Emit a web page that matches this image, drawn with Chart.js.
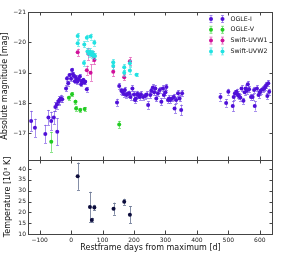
<!DOCTYPE html>
<html><head><meta charset="utf-8">
<script src="https://cdn.jsdelivr.net/npm/chart.js@4.4.1/dist/chart.umd.min.js"></script>
<style>
html,body{margin:0;padding:0;background:#fff;overflow:hidden}
#wrap{position:relative;width:287px;height:255px;background:#fff}
canvas{position:absolute;left:0;top:0}
</style></head><body>
<div id="wrap"><canvas id="cTop" width="287" height="255"></canvas><canvas id="cBot" width="287" height="255"></canvas></div>
<script>
// ---------- data ----------
const seriesNames = ['OGLE-I', 'OGLE-V', 'Swift-UVW1', 'Swift-UVW2'];

const ogleIDays = [-127,-115,-82,-72,-63,-55,-50,-45,-44,-40,-37,-33,-28,-16,-13,-9,-5,0,3,6,9,12,15,18,20,24,28,32,34,39,42,45,50,
  146,153,160,163,168,171,176,180,185,189,195,200,203,206,210,213,218,222,229,236,240,245,252,255,260,264,268,271,276,282,287,292,295,300,303,308,312,315,321,327,329,334,340,345,350,353,
  475,493,500,514,517,521,526,530,533,538,542,548,552,555,559,562,566,572,577,582,584,591,596,600,603,609,614,618,621,624,627,630];
const ogleIMag = [-17.41,-17.18,-16.98,-17.52,-17.41,-17.52,-17.87,-17.96,-17.05,-18.05,-18.10,-18.15,-18.12,-18.48,-18.81,-18.65,-18.92,-18.80,-19.09,-18.95,-18.89,-18.72,-18.85,-18.76,-18.70,-18.78,-18.87,-18.62,-18.72,-18.76,-18.68,-18.70,-18.45,
  -18.02,-18.56,-18.40,-18.37,-18.30,-18.43,-18.26,-18.30,-18.31,-18.20,-18.48,-18.28,-18.10,-18.15,-18.30,-18.26,-18.20,-18.29,-18.20,-18.23,-18.28,-17.93,-18.26,-18.40,-18.51,-18.35,-18.48,-18.15,-18.32,-18.43,-18.04,-18.48,-18.26,-18.35,-18.53,-18.10,-18.15,-18.10,-18.15,-18.20,-17.82,-18.10,-18.32,-18.15,-17.77,-18.32,
  -18.20,-18.00,-18.37,-17.90,-18.20,-18.32,-18.37,-18.28,-18.23,-18.18,-18.48,-18.07,-18.35,-18.48,-18.40,-18.62,-18.45,-18.20,-18.20,-18.43,-17.90,-18.48,-18.26,-18.35,-18.40,-18.45,-18.48,-18.53,-18.59,-18.23,-18.65,-18.37];
const ogleIErr = [0.33,0.30,0.30,0.25,0.30,0.22,0.15,0.15,0.45,0.12,0.12,0.12,0.10,0.10,0.08,0.08,0.08,0.08,0.07,0.07,0.07,0.07,0.07,0.07,0.07,0.07,0.07,0.07,0.07,0.07,0.07,0.07,0.08,
  0.12,0.10,0.10,0.10,0.10,0.10,0.10,0.10,0.10,0.10,0.10,0.10,0.10,0.10,0.10,0.10,0.10,0.10,0.10,0.10,0.10,0.12,0.10,0.10,0.10,0.10,0.10,0.10,0.10,0.10,0.12,0.10,0.10,0.10,0.10,0.10,0.10,0.10,0.10,0.10,0.15,0.10,0.10,0.10,0.18,0.10,
  0.12,0.12,0.10,0.18,0.10,0.10,0.10,0.10,0.10,0.10,0.10,0.10,0.10,0.10,0.10,0.10,0.10,0.10,0.10,0.10,0.15,0.10,0.10,0.10,0.10,0.10,0.10,0.10,0.10,0.10,0.10,0.10];

const ogleVDays = [-63,-7,3,14,16,29,43,153];
const ogleVMag  = [-16.72,-18.17,-18.29,-18.04,-17.82,-17.77,-17.80,-17.29];
const ogleVErr  = [0.33,0.07,0.07,0.07,0.07,0.07,0.07,0.12];

const uvw1Days = [21,50,55,62,70,74,134,169,187];
const uvw1Mag  = [-19.67,-19.08,-19.62,-19.00,-19.55,-19.42,-19.03,-18.85,-19.38];
const uvw1Err  = [0.12,0.15,0.20,0.27,0.15,0.15,0.15,0.10,0.12];

const uvw2Days = [21,21,41,42,50,52,57,60,62,65,68,71,74,76,134,134,169,169,187,187,208];
const uvw2Mag  = [-20.21,-19.97,-19.32,-19.93,-20.15,-19.70,-19.62,-19.70,-20.19,-19.58,-19.65,-19.60,-19.99,-19.55,-19.34,-19.22,-19.18,-19.00,-19.31,-19.07,-18.93];
const uvw2Err  = [0.10,0.10,0.10,0.10,0.10,0.10,0.10,0.10,0.10,0.10,0.10,0.10,0.10,0.10,0.10,0.10,0.10,0.10,0.10,0.10,0.05];

const tempDays = [21,60,66,74,135,169,187];
const tempVal  = [36.7,22.5,16.5,22.2,21.7,24.9,18.9];
const tempErr  = [6.3,7.0,1.0,1.3,2.8,1.4,4.0];

const xTicks = [-100,0,100,200,300,400,500,600];
const magTicks = [-21,-20,-19,-18,-17];
const tempTicks = [10,15,20,25,30,35,40];

// ---------- styles ----------
const colors = ['#5010d8','#22cc22','#d0109a','#22e2e2'];
const barColors = ['rgba(110,70,225,0.6)','rgba(60,210,60,0.6)','rgba(220,60,170,0.6)','rgba(60,225,225,0.6)'];
const FONT = "'DejaVu Sans', sans-serif";
const minus = v => String(v).replace('-', '\u2212');

function pts(xs, ys, es){ return xs.map((x,i)=>({x:x, y:ys[i], e:es[i]})); }

const errorBarPlugin = {
  id:'errorBars',
  beforeDatasetDraw(chart, args){
    const ds = chart.data.datasets[args.index];
    const {ctx, scales:{x, y}} = chart;
    ctx.save();
    ctx.strokeStyle = ds.barColor; ctx.lineWidth = 1;
    ctx.beginPath();
    ds.data.forEach(p=>{
      const px = Math.round(x.getPixelForValue(p.x)) + 0.5;
      const y1 = y.getPixelForValue(p.y - p.e), y2 = y.getPixelForValue(p.y + p.e);
      ctx.moveTo(px, y1); ctx.lineTo(px, y2);
      ctx.moveTo(px-1.5, Math.round(y1)+0.5); ctx.lineTo(px+1.5, Math.round(y1)+0.5);
      ctx.moveTo(px-1.5, Math.round(y2)+0.5); ctx.lineTo(px+1.5, Math.round(y2)+0.5);
    });
    ctx.stroke();
    ctx.restore();
  }
};

function framePlugin(yTicks){
  return {
    id:'frame',
    afterDatasetsDraw(chart){
      const {ctx, chartArea:a, scales:{x, y}} = chart;
      const len = 3.5;
      ctx.save();
      ctx.strokeStyle = '#444'; ctx.lineWidth = 1;
      ctx.beginPath();
      xTicks.forEach(v=>{
        const px = Math.round(x.getPixelForValue(v)) + 0.5;
        ctx.moveTo(px, a.top); ctx.lineTo(px, a.top+len);
        ctx.moveTo(px, a.bottom); ctx.lineTo(px, a.bottom-len);
      });
      yTicks.forEach(v=>{
        const py = Math.round(y.getPixelForValue(v)) + 0.5;
        ctx.moveTo(a.left, py); ctx.lineTo(a.left+len, py);
        ctx.moveTo(a.right, py); ctx.lineTo(a.right-len, py);
      });
      ctx.stroke();
      ctx.strokeRect(a.left+0.5, a.top+0.5, a.right-a.left-1, a.bottom-a.top);
      ctx.restore();
    }
  };
}

const legendPlugin = {
  id:'mlegend',
  afterDraw(chart){
    const {ctx, chartArea:a} = chart;
    ctx.save();
    ctx.font = "6.3px " + FONT;
    ctx.textBaseline = 'middle';
    seriesNames.forEach((name,i)=>{
      const cy = a.top + 7 + i*10.8;
      [a.right-62, a.right-50.5].forEach(cx=>{
        ctx.strokeStyle = barColors[i]; ctx.lineWidth = 1;
        ctx.beginPath();
        ctx.moveTo(cx, cy-3.5); ctx.lineTo(cx, cy+3.5);
        ctx.moveTo(cx-1.5, cy-3.5); ctx.lineTo(cx+1.5, cy-3.5);
        ctx.moveTo(cx-1.5, cy+3.5); ctx.lineTo(cx+1.5, cy+3.5);
        ctx.stroke();
        ctx.fillStyle = colors[i];
        ctx.beginPath(); ctx.arc(cx, cy, 2, 0, Math.PI*2); ctx.fill();
      });
      ctx.fillStyle = '#111';
      ctx.fillText(name, a.right-42.5, cy);
    });
    ctx.restore();
  }
};

const tickFont = {family: FONT, size: 6};
const titleFont = {family: FONT, size: 8};

const rawSets = [
  [ogleIDays, ogleIMag, ogleIErr],
  [ogleVDays, ogleVMag, ogleVErr],
  [uvw1Days, uvw1Mag, uvw1Err],
  [uvw2Days, uvw2Mag, uvw2Err]
];

new Chart(document.getElementById('cTop'), {
  type:'scatter',
  data:{
    datasets: rawSets.map((s,i)=>({
      label: seriesNames[i],
      data: pts(s[0], s[1], s[2]),
      backgroundColor: colors[i],
      borderWidth: 0,
      pointRadius: 2,
      barColor: barColors[i],
      order: 4-i
    }))
  },
  options:{
    responsive:false, animation:false, devicePixelRatio:1,
    layout:{padding:{left:0, top:12, right:14, bottom:95}},
    plugins:{legend:{display:false}, tooltip:{enabled:false}},
    scales:{
      x:{type:'linear', min:-137, max:642, display:false},
      y:{type:'linear', min:-21, max:-16.12, reverse:true,
         afterFit(s){ s.width = 28; },
         afterBuildTicks(s){ s.ticks = magTicks.map(v=>({value:v})); },
         grid:{display:false, drawTicks:false},
         border:{display:false},
         ticks:{font:tickFont, color:'#222', padding:2, callback:v=>minus(v)},
         title:{display:true, text:'Absolute magnitude [mag]', font:titleFont, color:'#111', padding:{top:0,bottom:0}}
      }
    }
  },
  plugins:[errorBarPlugin, framePlugin(magTicks), legendPlugin]
});

new Chart(document.getElementById('cBot'), {
  type:'scatter',
  data:{
    datasets:[{
      label:'Temperature',
      data: pts(tempDays, tempVal, tempErr),
      backgroundColor:'#0c0c3c',
      borderWidth:0,
      pointRadius:2,
      barColor:'rgba(110,122,150,0.85)'
    }]
  },
  options:{
    responsive:false, animation:false, devicePixelRatio:1,
    layout:{padding:{left:0, top:160, right:14, bottom:0}},
    plugins:{legend:{display:false}, tooltip:{enabled:false}},
    scales:{
      x:{type:'linear', min:-137, max:642,
         afterFit(s){ s.height = 21; },
         afterBuildTicks(s){ s.ticks = xTicks.map(v=>({value:v})); },
         grid:{display:false, drawTicks:false},
         border:{display:false},
         ticks:{font:tickFont, color:'#222', padding:3, maxRotation:0, autoSkip:false, callback:v=>minus(v)},
         title:{display:true, text:'Restframe days from maximum [d]', font:titleFont, color:'#111', padding:{top:0,bottom:2}}
      },
      y:{type:'linear', min:10, max:44.2,
         afterFit(s){ s.width = 28; },
         afterBuildTicks(s){ s.ticks = tempTicks.map(v=>({value:v})); },
         grid:{display:false, drawTicks:false},
         border:{display:false},
         ticks:{font:tickFont, color:'#222', padding:2, autoSkip:false},
         title:{display:true, text:'Temperature [10\u00b3 K]', font:titleFont, color:'#111', padding:{top:3,bottom:0}}
      }
    }
  },
  plugins:[errorBarPlugin, framePlugin(tempTicks)]
});
</script>
</body></html>
